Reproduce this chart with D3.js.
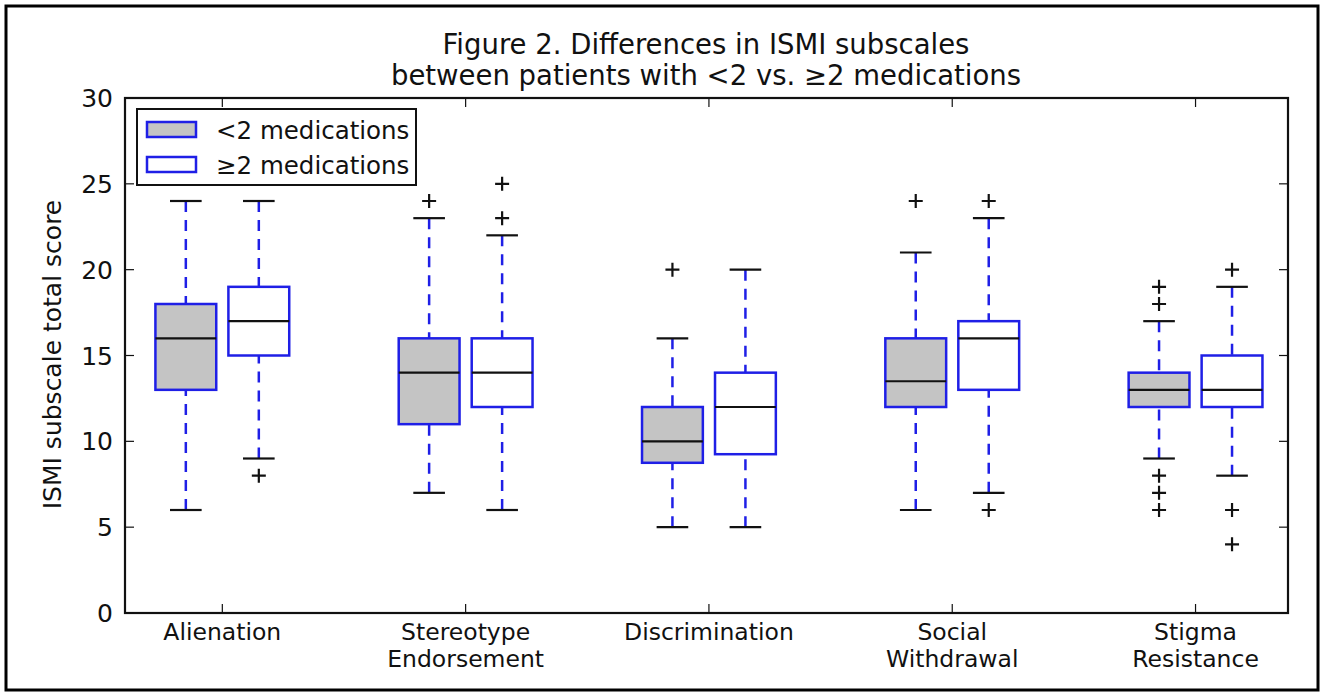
<!DOCTYPE html>
<html>
<head>
<meta charset="utf-8">
<script src="https://cdn.jsdelivr.net/npm/d3@7"></script>
<style>
  body { margin: 0; background: #fff; }
  svg { display: block; font-family: 'DejaVu Sans', sans-serif; }
</style>
</head>
<body>
<svg id="chart"></svg>
<script>
// chart data
const categories = ['Alienation', 'Stereotype\nEndorsement', 'Discrimination', 'Social\nWithdrawal', 'Stigma\nResistance'];
const groups = ['<2 medications', '≥2 medications'];
const yTicks = [0, 5, 10, 15, 20, 25, 30];

// [whisker low, q1, median, q3, whisker high]
const statsLow = [
  [6, 13, 16, 18, 24],
  [7, 11, 14, 16, 23],
  [5, 8.75, 10, 12, 16],
  [6, 12, 13.5, 16, 21],
  [9, 12, 13, 14, 17]
];
const statsHigh = [
  [9, 15, 17, 19, 24],
  [6, 12, 14, 16, 22],
  [5, 9.25, 12, 14, 20],
  [7, 13, 16, 17, 23],
  [8, 12, 13, 15, 19]
];
const fliersLow = [[], [24], [20], [24], [18, 19, 6, 7, 8]];
const fliersHigh = [[8], [23, 25], [], [24, 6], [20, 6, 4]];

const W = 1324, H = 694;
const margin = {top: 98, bottom: 81, left: 125, right: 36};
const width = W - margin.left - margin.right;
const height = H - margin.top - margin.bottom;

const root = d3.select('#chart')
  .attr('width', W)
  .attr('height', H);

// outer frame
root.append('rect')
  .attr('x', 6).attr('y', 6)
  .attr('width', W - 12).attr('height', H - 10)
  .attr('fill', 'none')
  .attr('stroke', '#000')
  .attr('stroke-width', 3);

const svg = root.append('g')
  .attr('transform', `translate(${margin.left}, ${margin.top})`);

const x = d3.scaleLinear()
  .domain([0.6, 5.38])
  .range([0, width]);

const y = d3.scaleLinear()
  .domain([0, 30])
  .range([height, 0]);

const offset = 0.15;
const boxW = x(1.25) - x(1);
const capW = boxW * 0.52;
const blue = '#1f1fe6';

function drawBoxes(stats, fliers, dx, fill) {
  stats.forEach((s, i) => {
    const cx = x(i + 1 + dx);
    const g = svg.append('g');
    // whiskers
    g.append('line')
      .attr('x1', cx).attr('x2', cx)
      .attr('y1', y(s[0])).attr('y2', y(s[1]))
      .attr('stroke', blue).attr('stroke-width', 2.5)
      .attr('stroke-dasharray', '11,8');
    g.append('line')
      .attr('x1', cx).attr('x2', cx)
      .attr('y1', y(s[4])).attr('y2', y(s[3]))
      .attr('stroke', blue).attr('stroke-width', 2.5)
      .attr('stroke-dasharray', '11,8');
    // caps
    [s[0], s[4]].forEach(v => {
      g.append('line')
        .attr('x1', cx - capW / 2).attr('x2', cx + capW / 2)
        .attr('y1', y(v)).attr('y2', y(v))
        .attr('stroke', '#111').attr('stroke-width', 2.2);
    });
    // box
    g.append('rect')
      .attr('x', cx - boxW / 2)
      .attr('y', y(s[3]))
      .attr('width', boxW)
      .attr('height', y(s[1]) - y(s[3]))
      .attr('fill', fill)
      .attr('stroke', blue)
      .attr('stroke-width', 2.5);
    // median
    g.append('line')
      .attr('x1', cx - boxW / 2).attr('x2', cx + boxW / 2)
      .attr('y1', y(s[2])).attr('y2', y(s[2]))
      .attr('stroke', '#111').attr('stroke-width', 2.2);
    // fliers
    fliers[i].forEach(v => {
      g.append('path')
        .attr('d', `M${cx - 7},${y(v)}H${cx + 7}M${cx},${y(v) - 7}V${y(v) + 7}`)
        .attr('stroke', '#111').attr('stroke-width', 2.2);
    });
  });
}

drawBoxes(statsLow, fliersLow, -offset, '#c4c4c4');
drawBoxes(statsHigh, fliersHigh, offset, '#fff');

// axes frame
svg.append('rect')
  .attr('width', width).attr('height', height)
  .attr('fill', 'none')
  .attr('stroke', '#111')
  .attr('stroke-width', 2.2);

// inward ticks
const tickLen = 9;
yTicks.forEach(t => {
  svg.append('line').attr('x1', 0).attr('x2', tickLen)
    .attr('y1', y(t)).attr('y2', y(t)).attr('stroke', '#111').attr('stroke-width', 1.2);
  svg.append('line').attr('x1', width).attr('x2', width - tickLen)
    .attr('y1', y(t)).attr('y2', y(t)).attr('stroke', '#111').attr('stroke-width', 1.2);
  svg.append('text')
    .attr('x', -12).attr('y', y(t))
    .attr('dy', '0.36em')
    .attr('text-anchor', 'end')
    .style('font-size', '25px')
    .style('fill', '#111')
    .text(t);
});

categories.forEach((c, i) => {
  const cx = x(i + 1);
  svg.append('line').attr('x1', cx).attr('x2', cx)
    .attr('y1', height).attr('y2', height - tickLen).attr('stroke', '#111').attr('stroke-width', 1.2);
  svg.append('line').attr('x1', cx).attr('x2', cx)
    .attr('y1', 0).attr('y2', tickLen).attr('stroke', '#111').attr('stroke-width', 1.2);
  const t = svg.append('text')
    .attr('x', cx).attr('y', height + 27)
    .attr('text-anchor', 'middle')
    .style('font-size', '23.5px')
    .style('fill', '#111');
  c.split('\n').forEach((line, k) => {
    t.append('tspan').attr('x', cx).attr('dy', k === 0 ? 0 : 27).text(line);
  });
});

// y axis label
svg.append('text')
  .attr('transform', 'rotate(-90)')
  .attr('x', -height / 2 + 1)
  .attr('y', -64)
  .attr('text-anchor', 'middle')
  .style('font-size', '25px')
  .style('fill', '#111')
  .text('ISMI subscale total score');

// title
const title = root.append('text')
  .attr('x', 706).attr('y', 54)
  .attr('text-anchor', 'middle')
  .style('font-size', '27.5px')
  .style('fill', '#111');
title.append('tspan').attr('x', 706).text('Figure 2. Differences in ISMI subscales');
title.append('tspan').attr('x', 706).attr('dy', 31).text('between patients with <2 vs. ≥2 medications');

// legend
const legend = svg.append('g').attr('transform', 'translate(12, 11)');
legend.append('rect')
  .attr('width', 279).attr('height', 76)
  .attr('fill', '#fff')
  .attr('stroke', '#111')
  .attr('stroke-width', 2);
groups.forEach((gname, i) => {
  legend.append('rect')
    .attr('x', 10).attr('y', 13 + i * 35)
    .attr('width', 49).attr('height', 15)
    .attr('fill', i === 0 ? '#c4c4c4' : '#fff')
    .attr('stroke', blue)
    .attr('stroke-width', 2.5);
  legend.append('text')
    .attr('x', 79).attr('y', 30 + i * 35)
    .style('font-size', '24.5px')
    .style('fill', '#111')
    .text(gname);
});
</script>
</body>
</html>
